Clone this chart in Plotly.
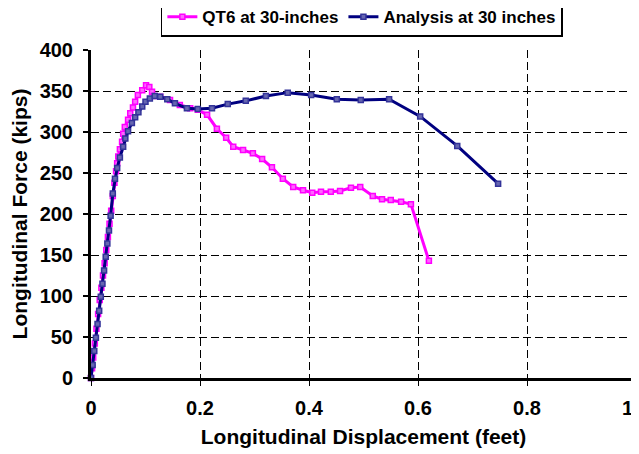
import plotly.graph_objects as go

# QT6 test data at 30 inches (displacement in feet, force in kips)
qt6_disp = [0.000, 0.002, 0.004, 0.007, 0.010, 0.013, 0.016, 0.019, 0.022, 0.025,
            0.028, 0.031, 0.034, 0.037, 0.040, 0.043, 0.046, 0.048, 0.050, 0.053,
            0.057, 0.059, 0.062, 0.068, 0.072, 0.077, 0.081, 0.086, 0.094, 0.101,
            0.107, 0.112, 0.116, 0.127, 0.145, 0.163, 0.182, 0.196, 0.213, 0.231,
            0.248, 0.261, 0.279, 0.297, 0.314, 0.332, 0.352, 0.371, 0.389, 0.406,
            0.422, 0.440, 0.457, 0.477, 0.494, 0.517, 0.534, 0.550, 0.569, 0.587,
            0.620]
qt6_force = [0, 12, 25, 42, 60, 78, 95, 110, 125, 140,
             156, 172, 188, 204, 222, 238, 252, 262, 270, 279,
             288, 298, 306, 315, 323, 330, 337, 345, 351, 357,
             355, 349, 344, 343, 339, 333, 329, 327, 321, 304,
             293, 282, 278, 274, 267, 257, 243, 233, 229, 226,
             227, 227, 228, 232, 233, 222, 218, 217, 215, 212,
             143]

# Analysis at 30 inches
ana_disp = [0.000, 0.003, 0.006, 0.009, 0.012, 0.015, 0.018, 0.021, 0.024, 0.027,
            0.030, 0.033, 0.036, 0.040, 0.044, 0.048, 0.053, 0.059, 0.063, 0.068,
            0.075, 0.081, 0.087, 0.094, 0.100, 0.108, 0.117, 0.127, 0.140, 0.154,
            0.176, 0.196, 0.222, 0.251, 0.284, 0.321, 0.361, 0.404, 0.451, 0.495,
            0.547, 0.604, 0.672, 0.747]
ana_force = [0, 16, 33, 49, 66, 82, 99, 115, 131, 148,
             164, 180, 198, 225, 243, 256, 269, 282, 292, 301,
             311, 318, 324, 331, 337, 341, 344, 343, 340, 335,
             329, 328, 329, 334, 338, 344, 348, 345, 340, 339,
             340, 319, 283, 237]

x_ticks = [0, 0.2, 0.4, 0.6, 0.8, 1]
# trailing nbsp keeps the last label from falling off the right edge
x_labels = ["0", "0.2", "0.4", "0.6", "0.8", "1\u00a0\u00a0\u00a0"]
y_ticks = [0, 50, 100, 150, 200, 250, 300, 350, 400]

FONT = "Liberation Sans, Arial, sans-serif"

fig = go.Figure()

fig.add_trace(go.Scatter(
    x=qt6_disp, y=qt6_force, name="<b>QT6 at 30-inches</b>",
    mode="lines+markers", cliponaxis=False,
    line=dict(color="#FF00FF", width=3),
    marker=dict(symbol="square", size=5, color="#FF66FF",
                line=dict(color="#FF00FF", width=1.5)),
))
fig.add_trace(go.Scatter(
    x=ana_disp, y=ana_force, name="<b>Analysis at 30 inches</b>",
    mode="lines+markers", cliponaxis=False,
    line=dict(color="#000080", width=3),
    marker=dict(symbol="square", size=5, color="#6666B0",
                line=dict(color="#333399", width=1.5)),
))

# gray border on the right like the original frame
fig.add_shape(type="line", xref="paper", yref="paper", x0=1, x1=1, y0=0, y1=1,
              line=dict(color="#808080", width=2))

# page body adds an 8px offset, so the figure is a bit smaller than the window
fig.update_layout(
    width=631, height=446,
    margin=dict(l=83, r=3, t=42, b=76, autoexpand=False),
    paper_bgcolor="white", plot_bgcolor="white",
    font=dict(family=FONT, color="black"),
    showlegend=True,
    legend=dict(
        orientation="h", x=0.497, xanchor="center", y=1.10, yanchor="middle",
        bordercolor="black", borderwidth=1.5,
        font=dict(size=17, family=FONT),
        itemwidth=30, tracegroupgap=0,
    ),
    xaxis=dict(
        range=[0, 1], tickvals=x_ticks, ticktext=["<b>%s</b>" % t for t in x_labels],
        showgrid=True, gridcolor="black", griddash="8px,4px", gridwidth=1,
        showline=True, linecolor="black", linewidth=3,
        ticks="outside", ticklen=5, tickwidth=1, tickcolor="black",
        zeroline=False, automargin=False,
        ticklabelstandoff=5, ticklabeloverflow="allow",
        tickfont=dict(size=20),
        title=dict(text="<b>Longitudinal Displacement (feet)</b>", standoff=12,
                   font=dict(size=21)),
    ),
    yaxis=dict(
        range=[0, 400], tickvals=y_ticks, ticktext=["<b>%d</b>" % v for v in y_ticks],
        showgrid=True, gridcolor="black", griddash="8px,4px", gridwidth=1,
        showline=True, linecolor="black", linewidth=3,
        ticks="outside", ticklen=5, tickwidth=2, tickcolor="black",
        zeroline=False, automargin=False,
        ticklabelstandoff=6, ticklabeloverflow="allow",
        tickfont=dict(size=20),
        title=dict(text="<b>Longitudinal Force (kips)</b>", standoff=14,
                   font=dict(size=21)),
    ),
)

fig.write_html("out.html")
